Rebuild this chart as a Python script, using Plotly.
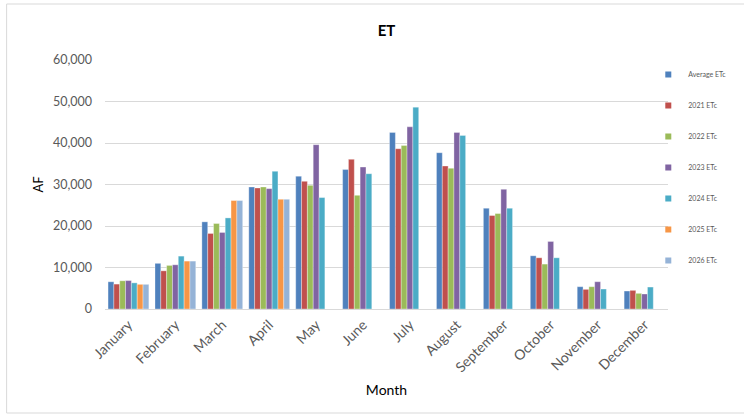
import plotly.graph_objects as go

months = ["January", "February", "March", "April", "May", "June", "July",
          "August", "September", "October", "November", "December"]

avg_etc = [6560, 11000, 21000, 29400, 32000, 33600, 42550, 37660, 24280, 12820, 5370, 4330]
etc_2021 = [6000, 9200, 18200, 29160, 30770, 36060, 38620, 34450, 22520, 12340, 4730, 4490]
etc_2022 = [6800, 10500, 20600, 29400, 29800, 27400, 39420, 33900, 23000, 10820, 5370, 3770]
etc_2023 = [6850, 10650, 18440, 29000, 39590, 34200, 43900, 42550, 28850, 16270, 6570, 3610]
etc_2024 = [6300, 12740, 21950, 33170, 26850, 32600, 48640, 41830, 24280, 12340, 4810, 5290]
etc_2025 = [5940, 11540, 26130, 26440, None, None, None, None, None, None, None, None]
etc_2026 = [5940, 11540, 26130, 26440, None, None, None, None, None, None, None, None]

series = [
    ("Average ETc", avg_etc, "#4F81BD"),
    ("2021 ETc", etc_2021, "#C0504D"),
    ("2022 ETc", etc_2022, "#9BBB59"),
    ("2023 ETc", etc_2023, "#8064A2"),
    ("2024 ETc", etc_2024, "#4BACC6"),
    ("2025 ETc", etc_2025, "#F79646"),
    ("2026 ETc", etc_2026, "#95B3D7"),
]

FONT = "Lato"
GREY = "#595959"

fig = go.Figure()
for name, vals, color in series:
    fig.add_trace(go.Bar(
        x=months, y=vals, name=name, marker_color=color,
        marker_line=dict(color="rgba(255,255,255,0.55)", width=0.6),
        legendgroup=name, showlegend=False,
    ))
    # compact square swatch for the legend entry
    fig.add_trace(go.Scatter(
        x=[None], y=[None], mode="markers", name=name, legendgroup=name,
        marker=dict(symbol="square", size=6, color=color),
        showlegend=True,
    ))

fig.update_layout(
    width=744, height=416,
    margin=dict(l=105, r=61, t=60, b=107),
    paper_bgcolor="white", plot_bgcolor="white",
    barmode="group", bargap=0.13, bargroupgap=0,
    font=dict(family=FONT, color=GREY),
    title=dict(text="<b>ET</b>", x=0.5, xref="paper", y=0.925, yanchor="middle",
               font=dict(family=FONT, size=15, color="#000000")),
    showlegend=True,
    legend=dict(x=0.965, xanchor="left", y=1.0, yanchor="top",
                bgcolor="rgba(0,0,0,0)", font=dict(size=7, color=GREY),
                tracegroupgap=12, itemwidth=30),
    xaxis=dict(tickangle=-45, tickfont=dict(size=14, color=GREY),
               ticklabelstandoff=4,
               title=dict(text="Month", font=dict(size=14, color="#000000"), standoff=10),
               showline=False, ticks=""),
    yaxis=dict(range=[0, 60000], dtick=10000, tickformat=",d",
               tickfont=dict(size=12.5, color=GREY), ticklabelstandoff=12,
               gridcolor="#D9D9D9", gridwidth=1, zeroline=True,
               zerolinecolor="#D9D9D9", zerolinewidth=1,
               title=dict(text="AF", font=dict(size=13, color="#000000"), standoff=6),
               ticks="", showline=False),
    shapes=[dict(type="rect", xref="paper", yref="paper",
                 x0=-101 / 578, x1=680 / 578, y0=-104 / 249, y1=1 + 56 / 249,
                 line=dict(color="#D9D9D9", width=1), layer="below")],
)

fig.write_html("out.html")
